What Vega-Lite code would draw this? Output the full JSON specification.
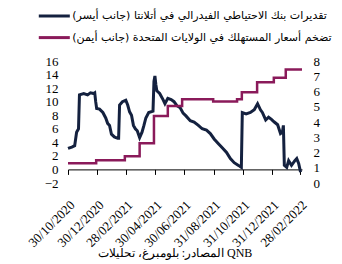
{
  "$schema": "https://vega.github.io/schema/vega-lite/v6.json",
  "width": 234,
  "height": 122,
  "autosize": {"type": "none"},
  "padding": {"left": 68, "top": 61, "right": 40, "bottom": 81},
  "background": "white",
  "title": {
    "text": "‎المصادر: بلومبرغ، تحليلات QNB",
    "orient": "bottom",
    "anchor": "middle",
    "frame": "group",
    "font": "Times New Roman, Liberation Serif, serif",
    "fontSize": 12,
    "fontWeight": "normal",
    "color": "black",
    "offset": -1,
    "dx": -10
  },
  "datasets": {
    "gdp": [
      {"date": "2020-10-30", "value": 3.1},
      {"date": "2020-11-07", "value": 3.3},
      {"date": "2020-11-13", "value": 3.5},
      {"date": "2020-11-17", "value": 5.5},
      {"date": "2020-11-21", "value": 6.0},
      {"date": "2020-11-23", "value": 11.0},
      {"date": "2020-12-02", "value": 11.2},
      {"date": "2020-12-10", "value": 11.0},
      {"date": "2020-12-16", "value": 11.3},
      {"date": "2020-12-23", "value": 11.2},
      {"date": "2020-12-25", "value": 11.3},
      {"date": "2020-12-27", "value": 10.0},
      {"date": "2020-12-29", "value": 9.0},
      {"date": "2021-01-04", "value": 8.9},
      {"date": "2021-01-11", "value": 8.4},
      {"date": "2021-01-17", "value": 7.6},
      {"date": "2021-01-21", "value": 6.8},
      {"date": "2021-01-25", "value": 6.5},
      {"date": "2021-01-29", "value": 5.2},
      {"date": "2021-02-04", "value": 4.8},
      {"date": "2021-02-11", "value": 4.6},
      {"date": "2021-02-13", "value": 4.6},
      {"date": "2021-02-15", "value": 9.5},
      {"date": "2021-02-21", "value": 10.0},
      {"date": "2021-02-28", "value": 10.2},
      {"date": "2021-03-04", "value": 9.5},
      {"date": "2021-03-08", "value": 8.5},
      {"date": "2021-03-12", "value": 8.0},
      {"date": "2021-03-16", "value": 6.5},
      {"date": "2021-03-20", "value": 6.0},
      {"date": "2021-03-24", "value": 5.7},
      {"date": "2021-03-29", "value": 4.7},
      {"date": "2021-04-03", "value": 5.5},
      {"date": "2021-04-07", "value": 6.5},
      {"date": "2021-04-11", "value": 7.6},
      {"date": "2021-04-17", "value": 8.4},
      {"date": "2021-04-26", "value": 8.6},
      {"date": "2021-04-28", "value": 13.0},
      {"date": "2021-04-30", "value": 13.8},
      {"date": "2021-05-02", "value": 12.5},
      {"date": "2021-05-04", "value": 11.6},
      {"date": "2021-05-10", "value": 11.2},
      {"date": "2021-05-17", "value": 10.3},
      {"date": "2021-05-21", "value": 9.7},
      {"date": "2021-05-27", "value": 10.5},
      {"date": "2021-06-03", "value": 10.3},
      {"date": "2021-06-09", "value": 10.0},
      {"date": "2021-06-15", "value": 9.4},
      {"date": "2021-06-22", "value": 9.1},
      {"date": "2021-06-28", "value": 8.3},
      {"date": "2021-07-04", "value": 7.9},
      {"date": "2021-07-13", "value": 7.2},
      {"date": "2021-07-21", "value": 7.0},
      {"date": "2021-07-30", "value": 6.5},
      {"date": "2021-08-07", "value": 6.0},
      {"date": "2021-08-16", "value": 5.8},
      {"date": "2021-08-24", "value": 5.3},
      {"date": "2021-09-01", "value": 4.5},
      {"date": "2021-09-10", "value": 3.8},
      {"date": "2021-09-18", "value": 3.2},
      {"date": "2021-09-27", "value": 2.5},
      {"date": "2021-10-05", "value": 1.6},
      {"date": "2021-10-13", "value": 1.0},
      {"date": "2021-10-22", "value": 0.6},
      {"date": "2021-10-28", "value": 0.3},
      {"date": "2021-10-30", "value": 8.4},
      {"date": "2021-11-07", "value": 8.2},
      {"date": "2021-11-16", "value": 8.4},
      {"date": "2021-11-24", "value": 8.8},
      {"date": "2021-12-01", "value": 9.7},
      {"date": "2021-12-07", "value": 8.8},
      {"date": "2021-12-11", "value": 8.4},
      {"date": "2021-12-18", "value": 7.3},
      {"date": "2021-12-24", "value": 7.7},
      {"date": "2021-12-30", "value": 7.4},
      {"date": "2022-01-05", "value": 7.0},
      {"date": "2022-01-12", "value": 6.6},
      {"date": "2022-01-18", "value": 5.3},
      {"date": "2022-01-22", "value": 5.5},
      {"date": "2022-01-24", "value": 6.5},
      {"date": "2022-01-26", "value": 0.6},
      {"date": "2022-01-31", "value": 0.3},
      {"date": "2022-02-04", "value": 1.3},
      {"date": "2022-02-10", "value": 0.6},
      {"date": "2022-02-17", "value": 1.3},
      {"date": "2022-02-21", "value": 1.6},
      {"date": "2022-02-25", "value": 0.9},
      {"date": "2022-03-01", "value": -0.4}
    ],
    "cpi": [
      {"date": "2020-10-30", "value": 1.3},
      {"date": "2020-12-28", "value": 1.5},
      {"date": "2021-02-26", "value": 1.75},
      {"date": "2021-03-29", "value": 2.6},
      {"date": "2021-04-28", "value": 4.4},
      {"date": "2021-05-27", "value": 5.05},
      {"date": "2021-06-26", "value": 5.5},
      {"date": "2021-08-30", "value": 5.35},
      {"date": "2021-10-19", "value": 5.5},
      {"date": "2021-10-29", "value": 5.95},
      {"date": "2021-11-30", "value": 6.6},
      {"date": "2022-01-04", "value": 6.9},
      {"date": "2022-01-29", "value": 7.45},
      {"date": "2022-03-04", "value": 7.45}
    ]
  },
  "encoding": {
    "x": {
      "field": "date",
      "type": "temporal",
      "scale": {
        "type": "utc",
        "domain": [
          {"year": 2020, "month": 10, "date": 30, "utc": true},
          {"year": 2022, "month": 3, "date": 4, "utc": true}
        ]
      },
      "axis": {
        "title": null,
        "grid": false,
        "offset": -13.6,
        "domainColor": "#000000",
        "tickColor": "#000000",
        "tickSize": 5,
        "labelAngle": -45,
        "labelPadding": 24,
        "labelFont": "Times New Roman, Liberation Serif, serif",
        "labelFontSize": 13,
        "labelColor": "black",
        "labelOverlap": false,
        "labelExpr": "utcFormat(datum.value, '%d/%m/%Y')",
        "values": [
          {"year": 2020, "month": 10, "date": 30, "utc": true},
          {"year": 2020, "month": 12, "date": 30, "utc": true},
          {"year": 2021, "month": 2, "date": 28, "utc": true},
          {"year": 2021, "month": 4, "date": 30, "utc": true},
          {"year": 2021, "month": 6, "date": 30, "utc": true},
          {"year": 2021, "month": 8, "date": 31, "utc": true},
          {"year": 2021, "month": 10, "date": 31, "utc": true},
          {"year": 2021, "month": 12, "date": 31, "utc": true},
          {"year": 2022, "month": 2, "date": 28, "utc": true}
        ]
      }
    },
    "color": {
      "datum": "تقديرات بنك الاحتياطي الفيدرالي في أتلانتا (جانب أيسر)",
      "type": "nominal",
      "scale": {
        "domain": [
          "تقديرات بنك الاحتياطي الفيدرالي في أتلانتا (جانب أيسر)",
          "تضخم أسعار المستهلك في الولايات المتحدة (جانب أيمن)"
        ],
        "range": ["#14213F", "#8A1A5A"]
      },
      "legend": {
        "title": null,
        "orient": "none",
        "legendX": -21.7,
        "legendY": -53,
        "direction": "vertical",
        "padding": 0,
        "symbolType": "M-2.5,0H2.5",
        "symbolSize": 154,
        "symbolStrokeWidth": 3,
        "labelOffset": 10,
        "rowPadding": 7.6,
        "labelFont": "DejaVu Sans",
        "labelFontSize": 11,
        "labelColor": "black",
        "labelLimit": 400
      }
    }
  },
  "layer": [
    {
      "data": {"name": "gdp"},
      "mark": {"type": "line", "strokeWidth": 3, "clip": false},
      "encoding": {
        "y": {
          "field": "value",
          "type": "quantitative",
          "scale": {"domain": [-2, 16], "nice": false, "zero": false},
          "axis": {
            "title": null,
            "orient": "left",
            "grid": false,
            "domain": false,
            "ticks": false,
            "values": [-2, 0, 2, 4, 6, 8, 10, 12, 14, 16],
            "labelPadding": 10,
            "labelFont": "Times New Roman, Liberation Serif, serif",
            "labelFontSize": 13,
            "labelColor": "black"
          }
        }
      }
    },
    {
      "data": {"name": "cpi"},
      "mark": {"type": "line", "strokeWidth": 2.5, "interpolate": "step-after"},
      "encoding": {
        "y": {
          "field": "value",
          "type": "quantitative",
          "scale": {"domain": [0, 8], "nice": false, "zero": false},
          "axis": {
            "title": null,
            "orient": "right",
            "grid": false,
            "domain": false,
            "ticks": false,
            "values": [0, 1, 2, 3, 4, 5, 6, 7, 8],
            "labelPadding": 11,
            "labelFont": "Times New Roman, Liberation Serif, serif",
            "labelFontSize": 13,
            "labelColor": "black"
          }
        },
        "color": {"datum": "تضخم أسعار المستهلك في الولايات المتحدة (جانب أيمن)", "type": "nominal"}
      }
    }
  ],
  "resolve": {"scale": {"y": "independent"}},
  "config": {"view": {"stroke": null}}
}
